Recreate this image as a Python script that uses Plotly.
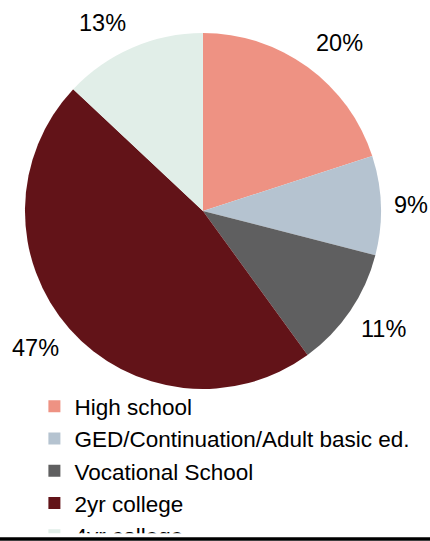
import math

import plotly.graph_objects as go

CATEGORIES = [
    "High school",
    "GED/Continuation/Adult basic ed.",
    "Vocational School",
    "2yr college",
    "4yr college",
]
SHARES = [20, 9, 11, 47, 13]
SLICE_COLORS = ["#ee9283", "#b5c3d0", "#5f5f60", "#621318", "#e1eee8"]

FONT = "Liberation Sans, Arial, sans-serif"
WIDTH, HEIGHT = 430, 541
PIE_X = [0.057, 0.887]
PIE_Y = [0.281, 0.939]
LABEL_GAP = 11


def label_annotations(values):
    # place percentage labels just outside the pie, like the Excel original
    cx = (PIE_X[0] + PIE_X[1]) / 2 * WIDTH
    cy = (PIE_Y[0] + PIE_Y[1]) / 2 * HEIGHT
    radius = min((PIE_X[1] - PIE_X[0]) * WIDTH, (PIE_Y[1] - PIE_Y[0]) * HEIGHT) / 2
    total = sum(values)
    annotations = []
    start = 0.0
    for value in values:
        mid = (start + value / 2) / total * 2 * math.pi
        start += value
        dx, dy = math.sin(mid), math.cos(mid)
        dist = radius + LABEL_GAP
        x = (cx + dx * dist) / WIDTH
        y = (cy + dy * dist) / HEIGHT
        xanchor = "center" if abs(3 * dx) < 0.5 else ("left" if dx > 0 else "right")
        yanchor = "middle" if abs(3 * dy) < 0.5 else ("bottom" if dy > 0 else "top")
        annotations.append(
            {
                "x": x,
                "y": y,
                "xref": "paper",
                "yref": "paper",
                "text": f"{value}%",
                "showarrow": False,
                "xanchor": xanchor,
                "yanchor": yanchor,
                "yshift": 3 if yanchor == "top" else 0,
                "font": {"family": FONT, "size": 23.5, "color": "#000000"},
            }
        )
    return annotations


fig = go.Figure()
fig.add_trace(
    go.Pie(
        labels=CATEGORIES,
        values=SHARES,
        sort=False,
        direction="clockwise",
        rotation=0,
        marker={"colors": SLICE_COLORS, "line": {"width": 0}},
        textinfo="none",
        domain={"x": PIE_X, "y": PIE_Y},
        hoverinfo="label+percent",
    )
)

fig.update_layout(
    width=WIDTH,
    height=HEIGHT,
    margin={"l": 0, "r": 0, "t": 0, "b": 0},
    paper_bgcolor="#ffffff",
    plot_bgcolor="#ffffff",
    font={"family": FONT, "size": 22.5, "color": "#000000"},
    showlegend=True,
    legend={
        "x": 0.08,
        "y": 0.288,
        "xanchor": "left",
        "yanchor": "top",
        "maxheight": 148,
        "font": {"family": FONT, "size": 22.5, "color": "#000000"},
        "bgcolor": "rgba(0,0,0,0)",
        "itemwidth": 30,
        "tracegroupgap": 0,
    },
    annotations=label_annotations(SHARES),
    shapes=[
        {
            "type": "line",
            "xref": "paper",
            "yref": "paper",
            "x0": 0,
            "x1": 1,
            "y0": 2 / HEIGHT,
            "y1": 2 / HEIGHT,
            "line": {"color": "#000000", "width": 3.5},
            "layer": "above",
        }
    ],
)

fig.write_html(
    "out.html",
    config={"displayModeBar": False},
    post_script=(
        "document.body.style.margin='0';"
        "document.body.style.overflow='hidden';"
        "var s=document.createElement('style');"
        "s.textContent='.legend .scrollbar{display:none !important;}';"
        "document.head.appendChild(s);"
    ),
)
